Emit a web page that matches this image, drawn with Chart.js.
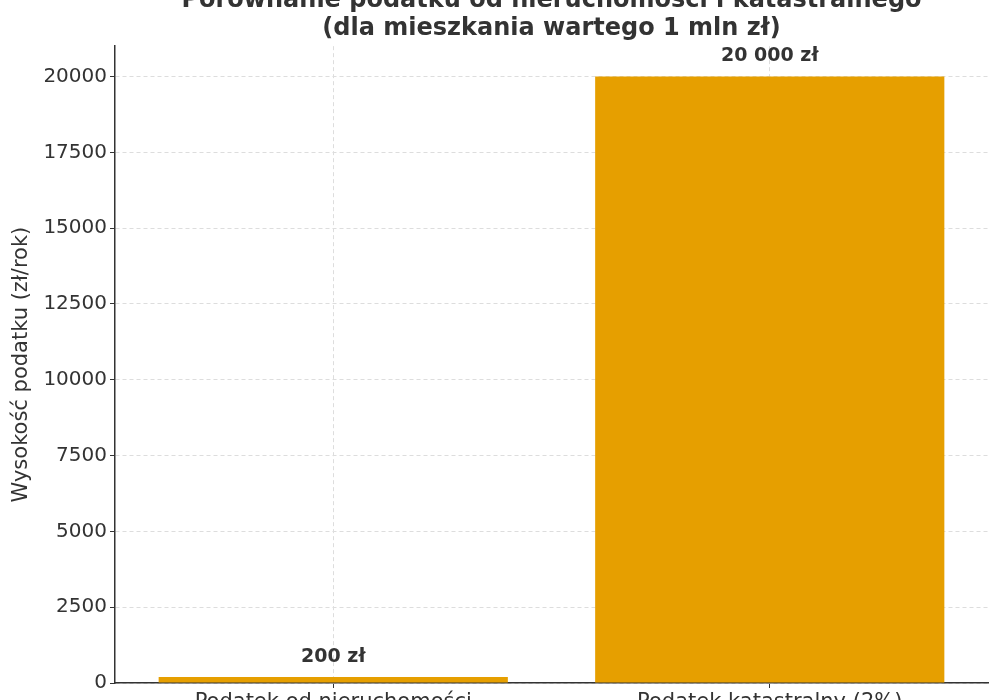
<!DOCTYPE html>
<html>
<head>
<meta charset="utf-8">
<script src="https://cdn.jsdelivr.net/npm/chart.js@4/dist/chart.umd.min.js"></script>
<style>
  html, body { margin: 0; padding: 0; background: #fff; }
  #wrap { width: 1000px; height: 700px; }
</style>
</head>
<body>
<div id="wrap"><canvas id="taxChart" width="1000" height="700"></canvas></div>
<script>
// data
const categories = ["Podatek od nieruchomości", "Podatek katastralny (2%)"];
const taxValues = [200, 20000];
const yTicks = [0, 2500, 5000, 7500, 10000, 12500, 15000, 17500, 20000];
const titleLines = ["Porównanie podatku od nieruchomości i katastralnego", "(dla mieszkania wartego 1 mln zł)"];

const FONT = "'DejaVu Sans', sans-serif";
const TEXT = "#333333";

function formatZl(v) {
    return String(v).replace(/\B(?=(\d{3})+(?!\d))/g, " ") + " zł";
}

// -------- value labels above bars ----------
const barLabels = {
    id: "barLabels",
    afterDatasetsDraw(chart) {
        const ctx = chart.ctx;
        const meta = chart.getDatasetMeta(0);
        ctx.save();
        ctx.font = "bold 19px " + FONT;
        ctx.fillStyle = TEXT;
        ctx.textAlign = "center";
        ctx.textBaseline = "middle";
        meta.data.forEach((bar, i) => {
            ctx.fillText(formatZl(taxValues[i]), bar.x, bar.y - 20);
        });
        ctx.restore();
    }
};

new Chart(document.getElementById("taxChart"), {
    type: "bar",
    data: {
        labels: categories,
        datasets: [{
            data: taxValues,
            backgroundColor: "#E69F00",
            barPercentage: 0.8,
            categoryPercentage: 1.0
        }]
    },
    options: {
        responsive: false,
        animation: false,
        layout: { padding: { top: 0, right: 12, left: 0, bottom: 0 } },
        plugins: {
            legend: { display: false },
            tooltip: { enabled: false },
            title: {
                display: true,
                fullSize: false,
                text: titleLines,
                color: TEXT,
                font: { family: FONT, size: 24, weight: "bold", lineHeight: 1.17 },
                padding: { top: -13, bottom: 3 }
            }
        },
        scales: {
            x: {
                grid: {
                    offset: false,
                    color: "#dddddd",
                    tickColor: "#333333",
                    tickLength: 5,
                    lineWidth: 1
                },
                border: { color: "#333333", width: 1.5, dash: [4, 3] },
                ticks: {
                    color: TEXT,
                    font: { family: FONT, size: 21 },
                    padding: 2
                },
                afterFit(scale) { scale.height = 17; }
            },
            y: {
                min: 0,
                max: 21000,
                afterBuildTicks(scale) {
                    scale.ticks = yTicks.map(v => ({ value: v }));
                },
                grid: {
                    color: "#dddddd",
                    tickColor: "#333333",
                    tickLength: 5,
                    lineWidth: 1
                },
                border: { color: "#333333", width: 1.5, dash: [4, 3] },
                ticks: {
                    color: TEXT,
                    font: { family: FONT, size: 20 },
                    padding: 3,
                    callback: v => String(v)
                },
                title: {
                    display: true,
                    text: "Wysokość podatku (zł/rok)",
                    color: TEXT,
                    font: { family: FONT, size: 21 },
                    padding: { top: 9, bottom: 4 }
                },
                afterFit(scale) { scale.width = 115; }
            }
        }
    },
    plugins: [barLabels]
});
</script>
</body>
</html>
